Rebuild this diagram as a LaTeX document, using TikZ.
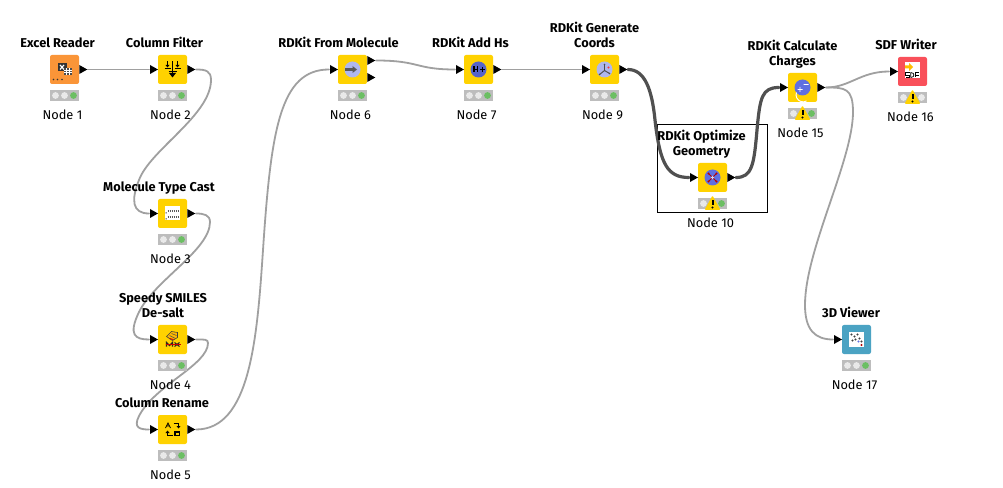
\documentclass[tikz,border=0pt]{standalone}
\usepackage{fontspec}
\setmainfont{Fira Sans}
\usetikzlibrary{backgrounds}
\definecolor{kyel}{HTML}{FFD200}
\definecolor{korg}{HTML}{FA9538}
\definecolor{kred}{HTML}{F9505A}
\definecolor{kblu}{HTML}{4BA3C3}
\definecolor{kgrn}{HTML}{6CBF63}
\definecolor{kgry}{HTML}{BDBDBD}
\definecolor{klit}{HTML}{E9E9E9}
\definecolor{kwire}{HTML}{A0A0A0}
\definecolor{kdark}{HTML}{505050}
\definecolor{kball}{HTML}{5F6FE0}
\tikzset{
  kbox/.style={rectangle,minimum size=21.75pt,inner sep=0pt,rounded corners=1.5pt,draw=none},
  ktitle/.style={anchor=south,inner sep=0pt,text depth=0pt,align=center,font=\fontsize{9.6}{11.2}\selectfont\bfseries},
  klabel/.style={anchor=south,inner sep=0pt,text depth=0pt,font=\fontsize{9.6}{11}\selectfont},
  wire/.style={draw=kwire,line width=1.35pt,line cap=round},
  hotwire/.style={draw=kdark,line width=2.4pt,line cap=round},
  select/.style={draw=black,line width=0.6pt},
}
% id, x, y, colour, title, title dx, last light colour, icon
\newcommand{\knode}[8]{%
  \begin{scope}[shift={(#2,#3)}]
    \node[kbox,fill=#4] (#1) at (0,0) {};
    \node[ktitle] (#1-t) at (#6,-22.2) {#5};
    \node[klabel] (#1-l) at (-2,49.8) {Node \kid{#1}};
    \fill[kgry] (-14.5,20.5) rectangle (14.5,31.5);
    \fill[klit] (-9,26) circle (3.4);
    \fill[klit] (0,26) circle (3.4);
    \fill[#7] (9,26) circle (3.4);
    #8
  \end{scope}}
\newcommand{\kid}[1]{\expandafter\kidaux#1\relax}
\def\kidaux n#1\relax{#1}
\newcommand{\kin}{\fill[black] (-22.5,-4.5) -- (-14.5,0) -- (-22.5,4.5) -- cycle;}
\newcommand{\kout}[1]{\fill[black] (14.8,#1-4.5) -- (22.8,#1) -- (14.8,#1+4.5) -- cycle;}
\newcommand{\kwarn}[1]{%
  \fill[kyel,draw=kyel,line width=1pt,line join=round] (#1,19.5) -- (#1+6.8,31.6) -- (#1-6.8,31.6) -- cycle;
  \fill[black] (#1-1,23) rectangle (#1+1,28);
  \fill[black] (#1,30) circle (1.1);}
\newcommand{\kglobe}{\fill[kball!50!white] (0,0) circle (8);}
\begin{document}
\begin{tikzpicture}[x=0.75pt,y=-0.75pt]
\useasboundingbox (0,0) rectangle (1003,488);

\knode{n1}{64.5}{69.5}{korg}{Excel Reader}{-7}{kgrn}{\kout{0}
  \fill[black!80] (-7,-6.5) rectangle (2,2);
  \draw[white,line width=0.9pt] (-4.5,-4.5) -- (-0.5,0) (-0.5,-4.5) -- (-4.5,0);
  \fill[black!70] (-1,-1) rectangle (7.5,5.5);
  \draw[white,line width=0.35pt] (-1,1) -- (7.5,1) (-1,3.2) -- (7.5,3.2) (1.8,-1) -- (1.8,5.5) (4.6,-1) -- (4.6,5.5);
  \foreach \q in {-11,-7,-2.5}{\fill[black!80] (\q,10) circle (0.9);}
}
\knode{n2}{172.5}{69.5}{kyel}{Column Filter}{-8}{kgrn}{\kin\kout{0}
  \draw[black,line width=0.6pt] (-8,-1.5) -- (-2,-1.5) (2,-1.5) -- (8,-1.5) (-4,2) -- (4,2);
  \draw[black,line width=0.6pt] (-5,-8) -- (-5,-3) (5,-8) -- (5,-3);
  \fill[black] (-7,-4.5) -- (-3,-4.5) -- (-5,-2) -- cycle;
  \fill[black] (3,-4.5) -- (7,-4.5) -- (5,-2) -- cycle;
  \draw[black,line width=0.9pt] (0,-8) -- (0,5);
  \fill[black] (-3.5,3.5) -- (3.5,3.5) -- (0,8) -- cycle;
}
\knode{n3}{172.5}{213.5}{kyel}{Molecule Type Cast}{-13.5}{kgrn}{\kin\kout{0}
  \fill[white] (-7.5,-7) rectangle (7.5,7);
  \draw[black!65,line width=0.9pt,dash pattern=on 1pt off 0.5pt] (-5,-2.5) -- (7,-2.5) (-5,3.5) -- (7,3.5);
  \fill[black] (-7,-1) rectangle (-6,0) (-7,5) rectangle (-6,6);
}
\knode{n4}{172.5}{339.5}{kyel}{Speedy SMILES\\De-salt}{-9.5}{kgrn}{\kin\kout{0}
  \draw[black!75,line width=0.45pt,fill=kyel!70!orange] (-6,-3) -- (-1,-8) -- (5,-7) -- (5,-2) -- (0,1) -- cycle;
  \draw[black!70,line width=0.4pt] (-3,-4) -- (3,-1) (-1,-6) -- (4,-4);
  \draw[red!80!black,line width=0.7pt] (-3,-1) -- (1,0);
  \draw[black!85,line width=0.8pt] (-6,7) -- (-6,3) -- (-3,6) -- (0,3) -- (0,7) (2,3) -- (7,7) (7,3) -- (2,7);
  \draw[red!80!black,line width=0.7pt] (-7,5) -- (8,5);
}
\knode{n5}{172.5}{429.5}{kyel}{Column Rename}{-10.5}{kgrn}{\kin\kout{0}
  \draw[black,line width=0.55pt] (-7,-1.5) -- (-4.5,-6.5) -- (-2,-1.5) (-6,-3.5) -- (-3,-3.5);
  \draw[black,line width=0.55pt] (1,-6) -- (6,-6) -- (6,-3);
  \fill[black] (4,-3.5) -- (8,-3.5) -- (6,-1) -- cycle;
  \draw[black,line width=0.55pt] (0,6) -- (-5,6) -- (-5,3);
  \fill[black] (-7,3.5) -- (-3,3.5) -- (-5,1) -- cycle;
  \draw[black,line width=0.8pt] (2.5,2.5) rectangle (7,6);
}
\knode{n6}{352.5}{69.5}{kyel}{RDKit From Molecule}{-14}{kgrn}{\kin\kout{-9}\kout{8}
  \kglobe
  \fill[black!65] (-8,-1.2) rectangle (0,1.2);
  \fill[black!65] (0,-3.5) -- (4.5,0) -- (0,3.5) -- cycle;
}
\knode{n7}{478.5}{69.5}{kyel}{RDKit Add Hs}{-8}{kgrn}{\kin\kout{0}
  \fill[kball!90!black] (0,0) circle (8);
  \draw[black,line width=0.8pt] (-4.5,-3) -- (-4.5,3) (-1,-3) -- (-1,3) (-4.5,0) -- (-1,0) (1.5,0) -- (6,0) (3.8,-2.3) -- (3.8,2.3);
}
\knode{n9}{604.5}{69.5}{kyel}{RDKit Generate\\Coords}{-10}{kgrn}{\kin\kout{0}
  \kglobe
  \draw[black!70,line width=0.7pt] (0,-5) -- (0,1) -- (5,4) (0,1) -- (-5,5);
  \fill[red!80] (4,-2) circle (1.1);
  \fill[black!70] (0,-5) circle (0.9) (5,4) circle (0.9) (-5,5) circle (0.9);
}
\knode{n10}{712.5}{177.5}{kyel}{RDKit Optimize\\Geometry}{-11}{kgrn}{\kin\kout{0}
  \fill[kball] (0,0) circle (8);
  \draw[red!70!black,line width=0.6pt] (-4,-4) -- (4,4) (4,-4) -- (-4,4);
  \fill[red!75!black] (-4,-4) circle (1.2) (4,4) circle (1.2) (4,-4) circle (1.2) (-4,4) circle (1.2);
  \fill[white!70!kball] (0,0) circle (1.6);
  \kwarn{0}
}
\knode{n15}{802.5}{87.5}{kyel}{RDKit Calculate\\Charges}{-10}{kgrn}{\kin\kout{0}
  \fill[kball] (0,0) circle (8);
  \draw[white,line width=0.7pt] (-5,2) -- (0,2) (-2.5,-0.5) -- (-2.5,4.5) (1,-3) -- (6,-3) (-6,5) arc (200:60:7);
  \kwarn{0}
}
\knode{n16}{912.5}{71.5}{kred}{SDF Writer}{-6.5}{klit}{\kin
  \fill[white] (-7.5,-9) rectangle (7.5,6.5);
  \fill[kyel!75!orange] (-7.5,-6) -- (-3.5,-6) -- (-3.5,-8.5) -- (0.5,-4.5) -- (-3.5,-0.5) -- (-3.5,-3) -- (-7.5,-3) -- cycle;
  \draw[black,line width=0.55pt] (-3,1) -- (-7,1) -- (-7,3.5) -- (-3,3.5) -- (-3,6) -- (-7,6);
  \draw[black,line width=0.55pt] (-1.8,1) -- (-1.8,6) (-1.8,1) .. controls (2.5,1) and (2.5,6) .. (-1.8,6);
  \draw[black,line width=0.55pt] (6.5,1) -- (3,1) -- (3,6) (3,3.5) -- (6,3.5);
  \kwarn{0}
}
\knode{n17}{856.5}{339.5}{kblu}{3D Viewer}{-5.5}{kgrn}{\kin
  \fill[white] (-7.5,-7.5) rectangle (7.5,7.5);
  \foreach \a/\b in {-5/-5,-2/-3,1/-5,-1/0,3/-1,5/2,-4/1}{\fill[black!75] (\a,\b) circle (1.1);}
  \fill[red!70!black] (5,5.5) circle (1.1);
  \fill[kball] (2,2) circle (1.1);
}

\node[inner sep=0pt,draw=none] (n1p) at (87,69.5) {};
\node[inner sep=0pt,draw=none] (n2pi) at (150,69.5) {};
\node[inner sep=0pt,draw=none] (n2po) at (195,69.5) {};
\node[inner sep=0pt,draw=none] (n3pi) at (150,213.5) {};
\node[inner sep=0pt,draw=none] (n3po) at (195,213.5) {};
\node[inner sep=0pt,draw=none] (n4pi) at (150,339.5) {};
\node[inner sep=0pt,draw=none] (n4po) at (195,339.5) {};
\node[inner sep=0pt,draw=none] (n5pi) at (150,429.5) {};
\node[inner sep=0pt,draw=none] (n5po) at (195,429.5) {};
\node[inner sep=0pt,draw=none] (n6pi) at (330,69.5) {};
\node[inner sep=0pt,draw=none] (n6po) at (375,60.5) {};
\node[inner sep=0pt,draw=none] (n7pi) at (456,69.5) {};
\node[inner sep=0pt,draw=none] (n7po) at (501,69.5) {};
\node[inner sep=0pt,draw=none] (n9pi) at (582,69.5) {};
\node[inner sep=0pt,draw=none] (n9po) at (627,69.5) {};
\node[inner sep=0pt,draw=none] (n10pi) at (690,177.5) {};
\node[inner sep=0pt,draw=none] (n10po) at (735,177.5) {};
\node[inner sep=0pt,draw=none] (n15pi) at (780,87.5) {};
\node[inner sep=0pt,draw=none] (n15po) at (825,87.5) {};
\node[inner sep=0pt,draw=none] (n16pi) at (890,71.5) {};
\node[inner sep=0pt,draw=none] (n17pi) at (834,339.5) {};

\begin{scope}[on background layer]
  \fill[white] (0,0) rectangle (1003,488);
  \draw[select] (657.5,124.5) rectangle (767.5,212.5);
  \draw[wire] (n1p) -- (n2pi);
  \draw[wire] (n2po) .. controls (206,69.5) and (211,71) .. (211,80)
     .. controls (211,115) and (150,150) .. (139,180)
     .. controls (131,200) and (132,213.5) .. (n3pi);
  \draw[wire] (n3po) .. controls (204,213.5) and (210,215) .. (210,222)
     .. controls (210,250) and (155,280) .. (139,312)
     .. controls (128,335) and (135,339.5) .. (n4pi);
  \draw[wire] (n4po) .. controls (204,339.5) and (208,339) .. (208,343)
     .. controls (208,365) and (155,385) .. (139,416)
     .. controls (133,428) and (140,429.5) .. (n5pi);
  \draw[wire] (n5po) .. controls (250,429.5) and (257,340) .. (263,250)
     .. controls (271,130) and (280,69.5) .. (n6pi);
  \draw[wire] (n6po) .. controls (420,60.5) and (415,69.5) .. (n7pi);
  \draw[wire] (n7po) -- (n9pi);
  \draw[hotwire] (n9po) .. controls (645,69.5) and (652,90) .. (655,120)
     .. controls (660,165) and (668,177.5) .. (n10pi);
  \draw[hotwire] (n10po) .. controls (752,177.5) and (754,165) .. (757,130)
     .. controls (760,97) and (762,87.5) .. (n15pi);
  \draw[wire] (n15po) .. controls (850,87.5) and (860,71.5) .. (n16pi);
  \draw[wire] (n15po) .. controls (845,87.5) and (853,88) .. (853,112)
     .. controls (853,160) and (805,250) .. (805,305)
     .. controls (805,330) and (815,339.5) .. (n17pi);
\end{scope}
\end{tikzpicture}
\end{document}
